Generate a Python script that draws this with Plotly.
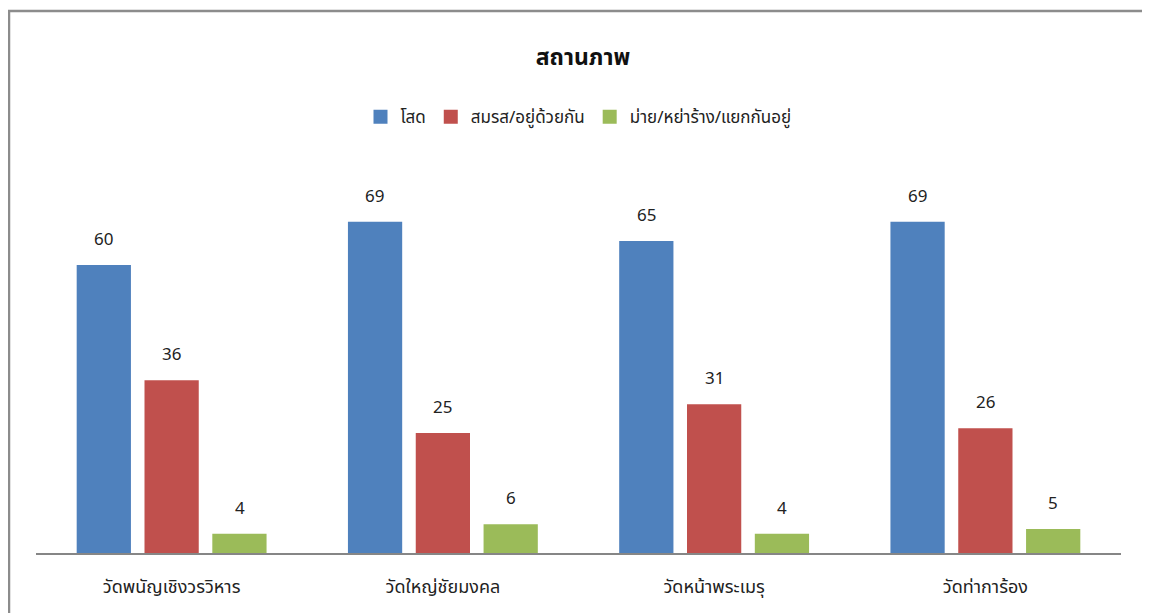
import plotly.graph_objects as go

# data
categories = ["วัดพนัญเชิงวรวิหาร", "วัดใหญ่ชัยมงคล", "วัดหน้าพระเมรุ", "วัดท่าการ้อง"]
series_names = ["โสด", "สมรส/อยู่ด้วยกัน", "ม่าย/หย่าร้าง/แยกกันอยู่"]
single = [60, 69, 65, 69]
married = [36, 25, 31, 26]
divorced = [4, 6, 4, 5]
colors = ["#4F81BD", "#C0504D", "#9BBB59"]

FONT = "Tahoma, 'Noto Sans Thai', Loma, Garuda, sans-serif"

fig = go.Figure()
all_series = [single, married, divorced]
for name, vals, col in zip(series_names, all_series, colors):
    fig.add_trace(go.Bar(
        x=categories,
        y=vals,
        name=name,
        marker=dict(color=col, line=dict(width=0)),
        showlegend=False,
    ))

# legend entries with bigger square swatches
for name, col in zip(series_names, colors):
    fig.add_trace(go.Scatter(
        x=[None], y=[None], mode="markers", name=name,
        marker=dict(symbol="square", size=14, color=col),
    ))

# value labels above bars
annotations = []
for i, vals in enumerate(all_series):
    for cat, v in zip(categories, vals):
        annotations.append(dict(
            x=cat, y=v, xref="x", yref="y",
            text=str(v), showarrow=False,
            xshift=(i - 1) * 68, yshift=25,
            font=dict(size=17, color="#222222", family=FONT),
        ))

fig.update_layout(
    width=1150,
    height=613,
    margin=dict(l=28, r=37, t=161, b=68),
    paper_bgcolor="white",
    plot_bgcolor="white",
    font=dict(family=FONT, size=17, color="#222222"),
    title=dict(
        text="<b>สถานภาพ</b>",
        x=0.5, xanchor="center",
        y=1 - 49 / 613, yanchor="middle",
        font=dict(size=23, color="#111111", family=FONT),
    ),
    barmode="group",
    bargap=0.25,
    bargroupgap=0.2,
    legend=dict(
        orientation="h",
        x=0.5, xanchor="center",
        y=1.135, yanchor="middle",
        font=dict(size=17, family=FONT),
        itemwidth=30,
        traceorder="normal",
    ),
    xaxis=dict(
        showline=True, linecolor="#868686", linewidth=2,
        showgrid=False, zeroline=False,
        ticks="outside", ticklen=16, tickcolor="rgba(0,0,0,0)",
        tickfont=dict(size=18, family=FONT),
    ),
    yaxis=dict(
        range=[0, 80], visible=False, showgrid=False, zeroline=False,
    ),
    annotations=annotations,
    shapes=[dict(
        type="rect", xref="paper", yref="paper",
        x0=(1 - 28) / 1085, x1=1.1,
        y0=-0.5, y1=(545 - 3) / 384,
        line=dict(color="#8C8C8C", width=2.5),
        fillcolor="rgba(0,0,0,0)",
        layer="below",
    )],
)

fig.write_html("out.html")
